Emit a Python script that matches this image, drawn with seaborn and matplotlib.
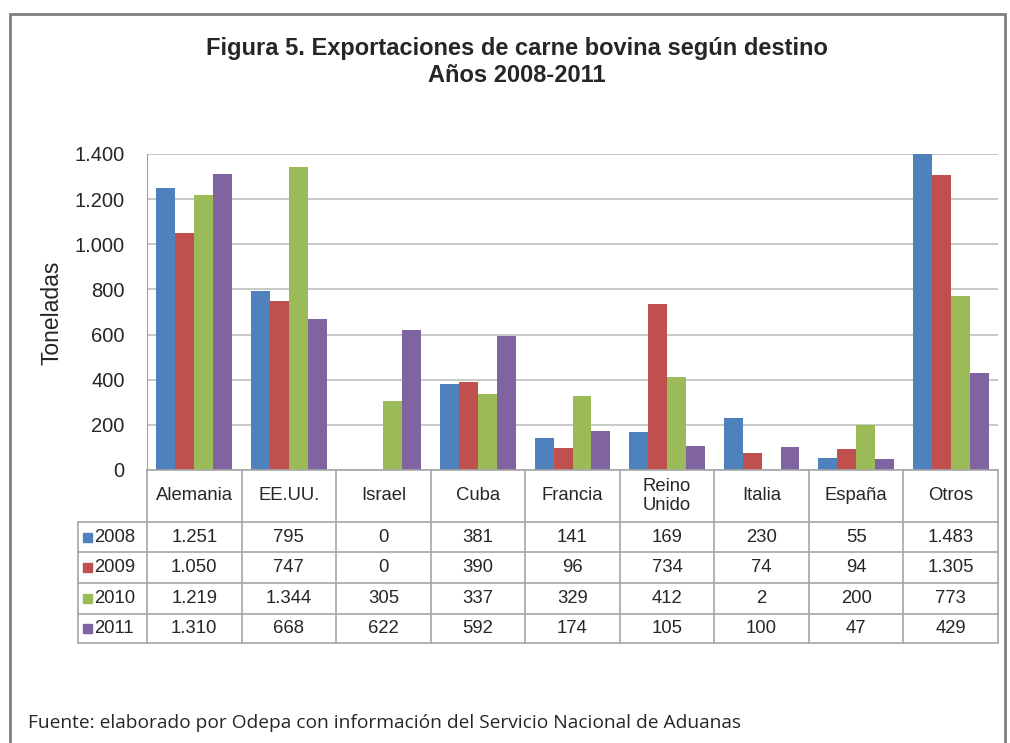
import matplotlib
matplotlib.use("Agg")
import matplotlib.pyplot as plt
import matplotlib.transforms as mtransforms
from matplotlib.patches import Rectangle
from matplotlib.lines import Line2D
import seaborn as sns
import pandas as pd

categories = ["Alemania", "EE.UU.", "Israel", "Cuba", "Francia", "Reino\nUnido", "Italia", "España", "Otros"]
years = ["2008", "2009", "2010", "2011"]
v2008 = [1251, 795, 0, 381, 141, 169, 230, 55, 1483]
v2009 = [1050, 747, 0, 390, 96, 734, 74, 94, 1305]
v2010 = [1219, 1344, 305, 337, 329, 412, 2, 200, 773]
v2011 = [1310, 668, 622, 592, 174, 105, 100, 47, 429]
yticks = [0, 200, 400, 600, 800, 1000, 1200, 1400]
colors = ["#4F81BD", "#C0504D", "#9BBB59", "#8064A2"]

series = [v2008, v2009, v2010, v2011]
rows = []
for y, vals in zip(years, series):
    for c, v in zip(categories, vals):
        rows.append({"cat": c, "year": y, "val": v})
df = pd.DataFrame(rows)

def fmt(v):
    return f"{v:,}".replace(",", ".")

sns.set_style("white")
plt.rcParams["font.family"] = ["Liberation Sans", "DejaVu Sans"]

W, H = 1010, 743
fig = plt.figure(figsize=(W / 100, H / 100), dpi=100)
ax = fig.add_axes([147 / W, 1 - 470 / H, (998 - 147) / W, (470 - 154) / H])

sns.barplot(data=df, x="cat", y="val", hue="year", palette=colors, width=0.8,
            saturation=1, ax=ax, legend=False, linewidth=0)

ax.set_ylim(0, 1400)
ax.set_xlim(-0.5, len(categories) - 0.5)
ax.set_yticks(yticks)
ax.set_yticklabels([fmt(t) for t in yticks], fontsize=14.5)
ax.set_xticks([])
ax.set_xlabel("")
ax.set_ylabel("")
ax.grid(axis="y", color="#BFBFBF", linewidth=1.2)
ax.set_axisbelow(True)
for s in ["top", "right", "bottom"]:
    ax.spines[s].set_visible(False)
ax.spines["left"].set_color("#A0A0A0")
ax.tick_params(axis="y", length=0, pad=16)

def fy(p):
    return 1 - p / H

fig.text(52 / W, fy(313), "Toneladas", rotation=90, ha="center", va="center", fontsize=16.5)

# data table below
trans = mtransforms.blended_transform_factory(ax.transData, fig.transFigure)
row_edges = [470, 522, 552, 583, 614, 643]
lc = "#A6A6A6"
n = len(categories)
for i, ry in enumerate(row_edges):
    if i == 0:
        ax.add_line(Line2D([-0.5, n - 0.5], [fy(ry)] * 2, transform=trans, color=lc, lw=1.2, clip_on=False))
    else:
        fig.add_artist(Line2D([78 / W, 998 / W], [fy(ry)] * 2, color=lc, lw=1.2))
for k in range(n + 1):
    ax.add_line(Line2D([k - 0.5] * 2, [fy(470), fy(643)], transform=trans, color=lc, lw=1.2, clip_on=False))
fig.add_artist(Line2D([78 / W] * 2, [fy(522), fy(643)], color=lc, lw=1.2))

for k, c in enumerate(categories):
    ax.text(k, fy(496), c, transform=trans, ha="center", va="center", fontsize=13.3, linespacing=1.15)
for r, (y, vals) in enumerate(zip(years, series)):
    cy = (row_edges[r + 1] + row_edges[r + 2]) / 2
    fig.add_artist(Rectangle((83 / W, fy(cy) - 4.5 / H), 9 / W, 9 / H, color=colors[r]))
    fig.text(94 / W, fy(cy), y, ha="left", va="center", fontsize=13.3)
    for k, v in enumerate(vals):
        ax.text(k, fy(cy), fmt(v), transform=trans, ha="center", va="center", fontsize=13.3)

# title
fig.text(517 / W, fy(48), "Figura 5. Exportaciones de carne bovina según destino",
         ha="center", va="center", fontsize=17, fontweight="bold")
fig.text(517 / W, fy(76), "Años 2008-2011", ha="center", va="center", fontsize=17, fontweight="bold")

# footnote
fig.text(28 / W, fy(723), "Fuente: elaborado por Odepa con información del Servicio Nacional de Aduanas",
         ha="left", va="center", fontsize=13.8, family=["Open Sans", "DejaVu Sans"])

# outer border
fig.add_artist(Rectangle((10 / W, -0.01), (1005 - 10) / W, fy(14) + 0.01, fill=False,
                         edgecolor="#7F7F7F", lw=2))

fig.savefig("out.png", dpi=100)
